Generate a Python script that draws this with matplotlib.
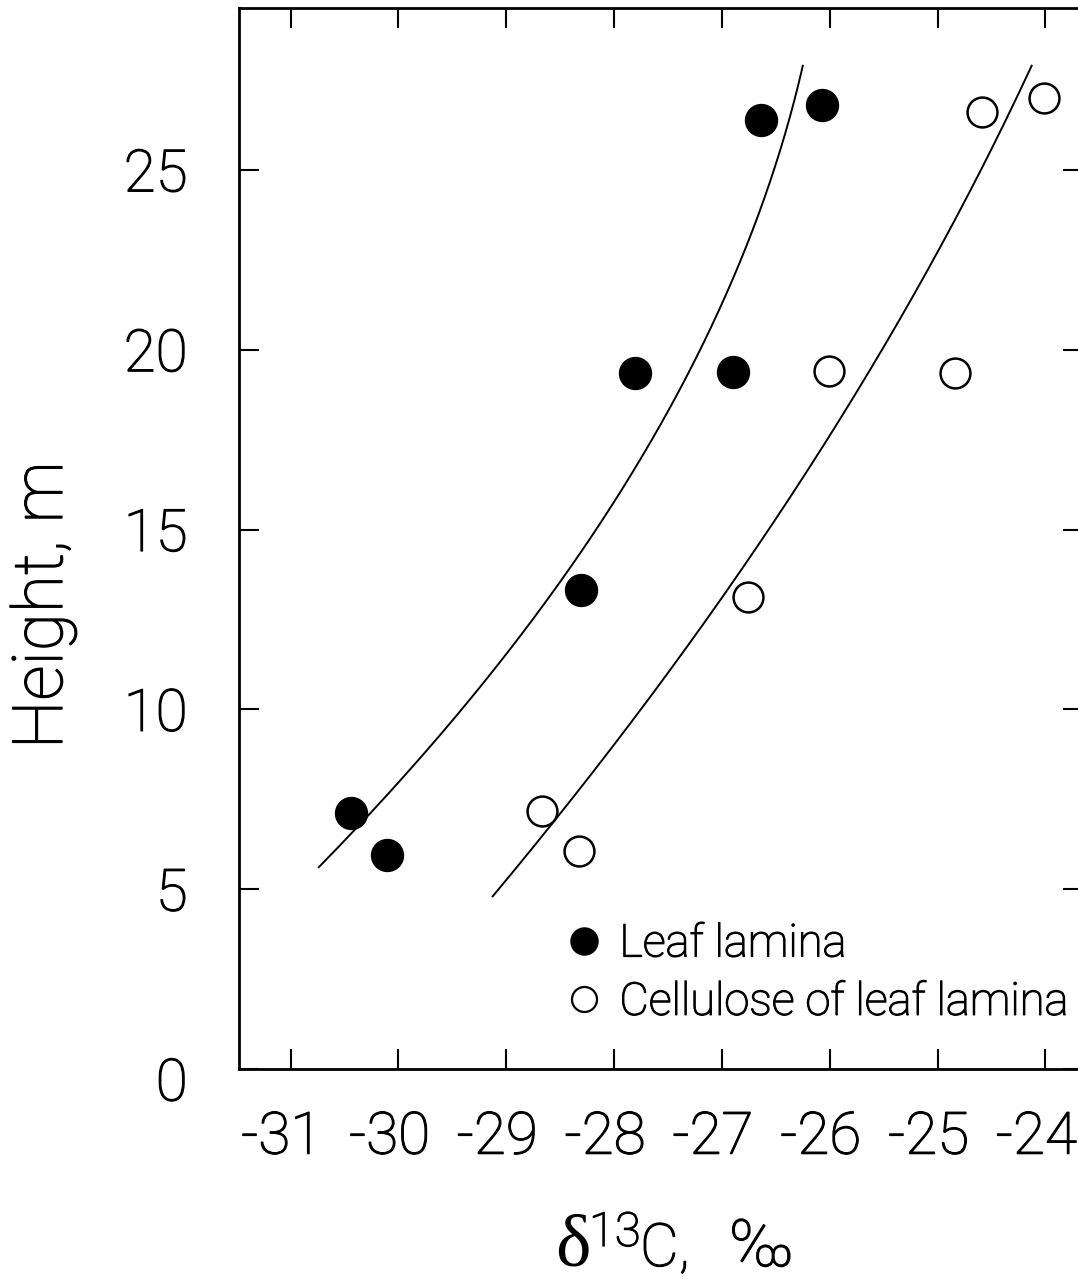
import numpy as np
import matplotlib
matplotlib.use("Agg")
import matplotlib.pyplot as plt
import matplotlib.patheffects as pe
from matplotlib.lines import Line2D
from matplotlib.transforms import ScaledTranslation

# Height of sampled leaves in the crown and their carbon isotope composition
leaf_d13c = [-30.44, -30.11, -28.31, -27.81, -26.90, -26.64, -26.07]
leaf_height = [7.12, 5.96, 13.31, 19.34, 19.37, 26.38, 26.80]
cell_d13c = [-28.67, -28.33, -26.76, -26.01, -24.84, -24.59, -24.01]
cell_height = [7.17, 6.07, 13.11, 19.42, 19.34, 26.60, 26.99]

x_ticks = [-31, -30, -29, -28, -27, -26, -25, -24]
y_ticks = [0, 5, 10, 15, 20, 25]

# regression curves: d13C = a + b*h + c*h**2, drawn over the height span given
leaf_curve_coef = (-32.749, 0.38979, -0.005621)
cell_curve_coef = (-30.524, 0.30403, -0.0026785)
leaf_curve_span = (5.59, 27.92)
cell_curve_span = (4.78, 27.92)

plt.rcParams["font.family"] = ["Roboto", "DejaVu Sans"]
plt.rcParams["font.weight"] = "light"
plt.rcParams["axes.unicode_minus"] = False
INK = [pe.withStroke(linewidth=0.9, foreground="black")]

W, H = 1078, 1282
fig = plt.figure(figsize=(W / 100, H / 100), dpi=100)
ax = fig.add_axes([239 / W, 213 / H, 844 / W, 1061 / H])
ax.set_xlim(-31.479, -23.651)
ax.set_ylim(0, 29.5)

for coef, span in ((leaf_curve_coef, leaf_curve_span),
                   (cell_curve_coef, cell_curve_span)):
    hh = np.linspace(span[0], span[1], 200)
    a, b, c = coef
    ax.plot(a + b * hh + c * hh ** 2, hh, color="black", lw=1.4,
            solid_capstyle="butt")

ax.plot(leaf_d13c, leaf_height, "o", ms=23, mfc="black", mec="black",
        ls="none", zorder=3)
ax.plot(cell_d13c, cell_height, "o", ms=21.5, mfc="white", mec="black",
        mew=1.8, ls="none", zorder=3)

ax.set_xticks(x_ticks)
ax.set_xticklabels([str(v) for v in x_ticks])
ax.set_yticks(y_ticks)
ax.set_yticklabels([str(v) for v in y_ticks])
ax.tick_params(direction="in", length=14.4, width=1.5, top=True, right=True,
               labelsize=42)
ax.tick_params(axis="x", pad=30)
ax.tick_params(axis="y", pad=37)
# centre the digits (not the minus sign) under each tick
shift = ScaledTranslation(-9 / 100, 0, fig.dpi_scale_trans)
for lab in ax.get_xticklabels():
    lab.set_transform(lab.get_transform() + shift)
# the zero label sits a little below the corner
zero_lab = ax.get_yticklabels()[0]
zero_lab.set_transform(zero_lab.get_transform()
                       + ScaledTranslation(0, -10 / 100, fig.dpi_scale_trans))
for lab in ax.get_xticklabels() + ax.get_yticklabels():
    lab.set_path_effects(INK)
for s in ax.spines.values():
    s.set_linewidth(2)

# legend
handles = [
    Line2D([], [], marker="o", ls="none", ms=19.5, mfc="black", mec="black"),
    Line2D([], [], marker="o", ls="none", ms=18, mfc="white", mec="black",
           mew=1.6),
]
leg = fig.legend(handles, ["Leaf lamina", "Cellulose of leaf lamina"],
                 loc="upper left", bbox_to_anchor=(566 / W, 1 - 923 / H),
                 bbox_transform=fig.transFigure, frameon=False, fontsize=32.6,
                 handlelength=0.8, handletextpad=0.38, borderpad=0,
                 borderaxespad=0, labelspacing=0.35)
for t in leg.get_texts():
    t.set_path_effects(INK)

# axis titles
fig.text(62 / W, 1 - 605 / H, "Height, m", rotation=90, rotation_mode="anchor",
         ha="center", va="baseline", fontsize=50, path_effects=INK)
fig.text(555 / W, 1 - 1265 / H, "δ", family=["Liberation Serif", "DejaVu Serif"],
         fontweight="normal", fontsize=54, ha="left", va="baseline")
fig.text(589 / W, 1 - 1246 / H, "13", fontsize=34, ha="left", va="baseline",
         path_effects=INK)
fig.text(640 / W, 1 - 1266 / H, "C,", fontsize=43, ha="left", va="baseline",
         path_effects=INK)
fig.text(729 / W, 1 - 1266 / H, "‰", fontsize=47, ha="left", va="baseline",
         path_effects=INK)

fig.savefig("out.png", dpi=100)
